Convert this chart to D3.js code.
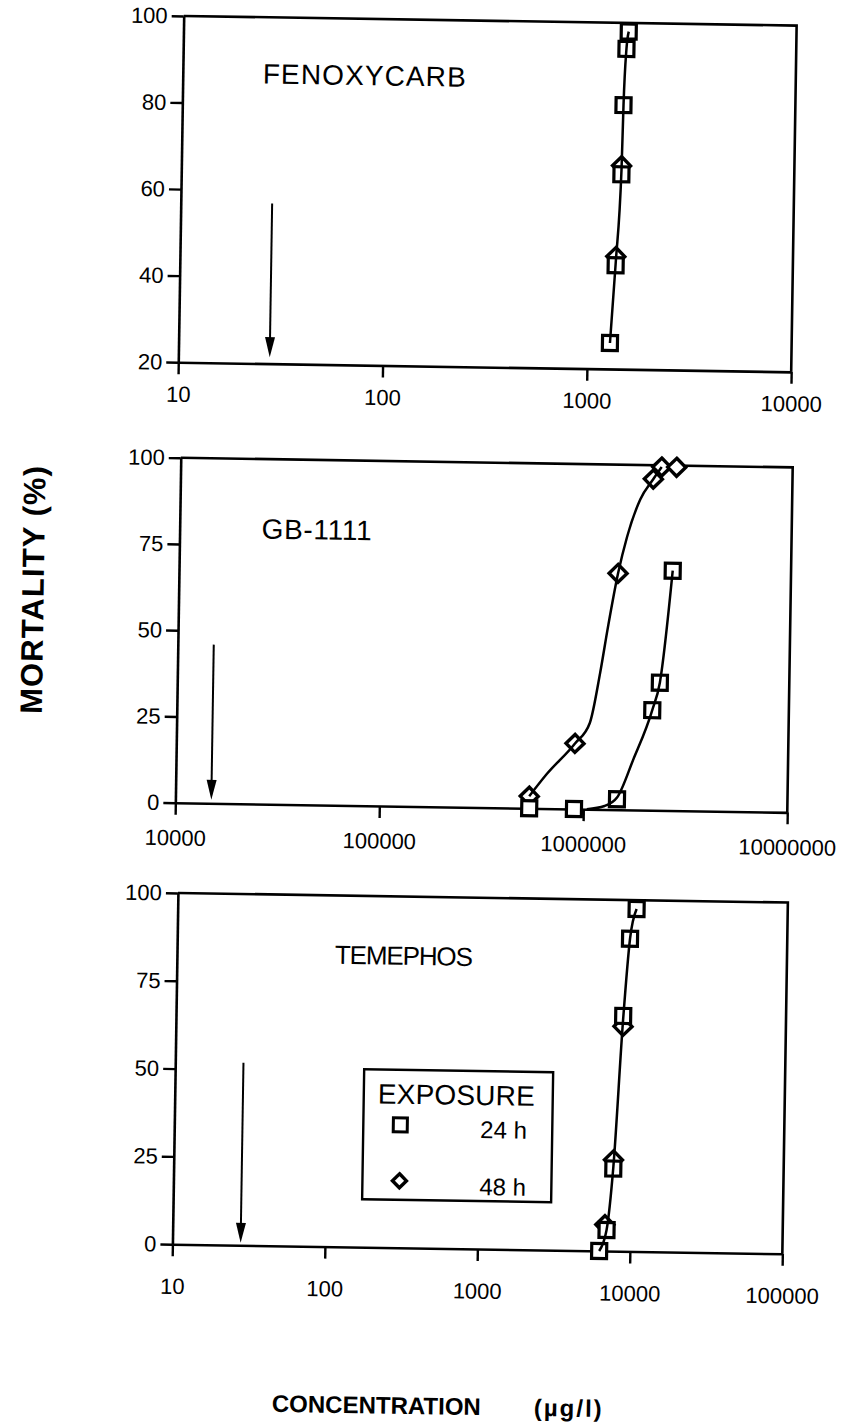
<!DOCTYPE html>
<html>
<head>
<meta charset="utf-8">
<script src="https://cdn.jsdelivr.net/npm/d3@7"></script>
<style>
body { margin: 0; background: #fff; }
svg { display: block; }
text { font-family: "Liberation Sans", Arial, sans-serif; fill: #000; }
</style>
</head>
<body>
<svg width="845" height="1427"></svg>
<script>
var svg = d3.select("svg");

// names of the three panels
var chemicals = ["FENOXYCARB", "GB-1111", "TEMEPHOS"];

// tick values
var fenoxTicks = [10, 100, 1000, 10000];
var gbTicks = [10000, 100000, 1000000, 10000000];
var temeTicks = [10, 100, 1000, 10000, 100000];
var mort20Ticks = [20, 40, 60, 80, 100];
var mort0Ticks = [0, 25, 50, 75, 100];

// [concentration ug/l, mortality %]
var fenox24 = [[1291, 26], [1358, 44], [1426, 65], [1442, 81], [1476, 94], [1510, 98]];
var fenox48 = [[1358, 46], [1426, 67]];
var fenoxFit = [[1291, 26], [1358, 44.5], [1426, 66], [1442, 81], [1476, 94], [1510, 98]];

var gb24 = [[543000, 0], [900000, 0], [1460000, 3], [2140000, 29], [2320000, 37], [2630000, 69.5]];
var gb48 = [[542000, 3.5], [900000, 19], [1420000, 68.5], [2080000, 96], [2280000, 99.5], [2700000, 99.5]];
var gbFit24 = [[1040000, 0], [1270000, 1], [1460000, 3.5], [1740000, 14.5], [2140000, 29], [2320000, 37], [2630000, 69.5]];
var gbFit48 = [[542000, 3.5], [658000, 10], [900000, 19], [1060000, 25], [1180000, 39.5], [1280000, 53],
               [1420000, 68.5], [1560000, 79], [1800000, 90], [2080000, 96], [2280000, 99.5]];

var teme24 = [[6290, 0], [7000, 6], [7640, 23.5], [8550, 67], [9310, 89], [10210, 97.5]];
var teme48 = [[6810, 7.5], [7640, 26], [8550, 64]];
var temeFit = [[6290, 0], [7000, 6], [7640, 24], [8550, 66], [9310, 89], [10210, 97.5]];

// arrows: concentration, top and tip mortality
var arrowConc = [28, 15000, 28];
var arrowTop = [57, 46, 52];
var arrowTip = [21.5, 1, 0.7];

// legend
var legendTitle = "EXPOSURE";
var legendLabels = ["24 h", "48 h"];

var panels = [
  { name: chemicals[0], xDomain: [10, 10000], yDomain: [20, 100], xTicks: fenoxTicks, yTicks: mort20Ticks,
    left: 173, right: 786, top: 20.7, bottom: 367, sq: fenox24, dm: fenox48, fits: [fenoxFit],
    tx: 253, ty: 87, tsize: 28, tlen: 203, pad: 12 },
  { name: chemicals[1], xDomain: [10000, 10000000], yDomain: [0, 100], xTicks: gbTicks, yTicks: mort0Ticks,
    left: 177, right: 789, top: 462.5, bottom: 807.5, sq: gb24, dm: gb48, fits: [gbFit24, gbFit48],
    tx: 259, ty: 542, tsize: 28, tlen: 110, pad: 15 },
  { name: chemicals[2], xDomain: [10, 100000], yDomain: [0, 100], xTicks: temeTicks, yTicks: mort0Ticks,
    left: 181, right: 791, top: 897.7, bottom: 1249, sq: teme24, dm: teme48, fits: [temeFit],
    tx: 339, ty: 966, tsize: 26, tlen: 138, pad: 22 }
];

// the scan is turned slightly clockwise
var root = svg.append("g").attr("transform", "rotate(0.9,480,700)");

var diamond = "M0,-9L9,0L0,9L-9,0Z";

panels.forEach(function(p, i) {
  var x = d3.scaleLog().domain(p.xDomain).range([p.left, p.right]);
  var y = d3.scaleLinear().domain(p.yDomain).range([p.bottom, p.top]);
  var g = root.append("g");

  // top and right frame
  g.append("path")
    .attr("d", "M" + p.left + "," + p.top + "H" + p.right + "V" + p.bottom)
    .attr("fill", "none").attr("stroke", "#000").attr("stroke-width", 2.6);

  var yAxis = g.append("g")
    .attr("transform", "translate(" + p.left + ",0)")
    .call(d3.axisLeft(y).tickValues(p.yTicks).tickSize(12).tickSizeOuter(0).tickPadding(4));

  var xAxis = g.append("g")
    .attr("transform", "translate(0," + p.bottom + ")")
    .call(d3.axisBottom(x).tickValues(p.xTicks).tickFormat(d3.format("d"))
      .tickSize(12).tickSizeOuter(0).tickPadding(p.pad));

  [yAxis, xAxis].forEach(function(a) {
    a.attr("font-family", null).attr("font-size", null);
    a.select(".domain").attr("stroke-width", 2.6);
    a.selectAll(".tick line").attr("stroke-width", 2.4);
    a.selectAll(".tick text").style("font-size", "22px");
  });

  g.append("text")
    .attr("x", p.tx).attr("y", p.ty)
    .attr("textLength", p.tlen)
    .style("font-size", p.tsize + "px")
    .text(p.name);

  // 48 h diamonds, behind the squares
  g.selectAll(".dm")
    .data(p.dm)
    .enter().append("path")
    .attr("d", diamond)
    .attr("transform", function(d) { return "translate(" + x(d[0]) + "," + y(d[1]) + ")"; })
    .attr("fill", "#fff").attr("stroke", "#000").attr("stroke-width", 3.4);

  // 24 h squares
  g.selectAll(".sq")
    .data(p.sq)
    .enter().append("rect")
    .attr("x", function(d) { return x(d[0]) - 7.5; })
    .attr("y", function(d) { return y(d[1]) - 7.5; })
    .attr("width", 15).attr("height", 15)
    .attr("fill", "#fff").attr("stroke", "#000").attr("stroke-width", 3.2);

  var line = d3.line()
    .x(function(d) { return x(d[0]); })
    .y(function(d) { return y(d[1]); })
    .curve(d3.curveMonotoneX);

  g.selectAll(".fit")
    .data(p.fits)
    .enter().append("path")
    .attr("d", line)
    .attr("fill", "none").attr("stroke", "#000").attr("stroke-width", 2.5);

  // arrow
  var ax = x(arrowConc[i]);
  var tip = y(arrowTip[i]);
  g.append("line")
    .attr("x1", ax).attr("x2", ax)
    .attr("y1", y(arrowTop[i])).attr("y2", tip - 16)
    .attr("stroke", "#000").attr("stroke-width", 2);
  g.append("path")
    .attr("d", "M" + (ax - 5) + "," + (tip - 20) + "L" + (ax + 5) + "," + (tip - 20) + "L" + ax + "," + tip + "Z")
    .attr("fill", "#000");

  // legend in the last panel
  if (i === 2) {
    var lg = g.append("g");
    lg.append("rect")
      .attr("x", 370).attr("y", 1071).attr("width", 189).attr("height", 130)
      .attr("fill", "#fff").attr("stroke", "#000").attr("stroke-width", 2.4);
    lg.append("text").attr("x", 384).attr("y", 1105).style("font-size", "28px")
      .attr("textLength", 157).text(legendTitle);
    lg.append("rect")
      .attr("x", 400).attr("y", 1119).attr("width", 14).attr("height", 14)
      .attr("fill", "#fff").attr("stroke", "#000").attr("stroke-width", 3);
    lg.append("path")
      .attr("d", "M0,-7L7,0L0,7L-7,0Z")
      .attr("transform", "translate(407,1182)")
      .attr("fill", "#fff").attr("stroke", "#000").attr("stroke-width", 3.4);
    lg.selectAll(".lab")
      .data(legendLabels)
      .enter().append("text")
      .attr("x", 487)
      .attr("y", function(d, k) { return k === 0 ? 1138 : 1195; })
      .style("font-size", "24px")
      .text(function(d) { return d; });
  }
});

// axis titles
root.append("text")
  .attr("transform", "translate(42,597) rotate(-90)")
  .attr("text-anchor", "middle")
  .attr("textLength", 248)
  .style("font-size", "31px").style("font-weight", "bold")
  .text("MORTALITY  (%)");

var ct = root.append("text")
  .attr("x", 283).attr("y", 1415)
  .style("font-size", "24px").style("font-weight", "bold");
ct.append("tspan").text("CONCENTRATION");
ct.append("tspan").attr("x", 545).style("letter-spacing", "2px").text("(µg/l)");
</script>
</body>
</html>
